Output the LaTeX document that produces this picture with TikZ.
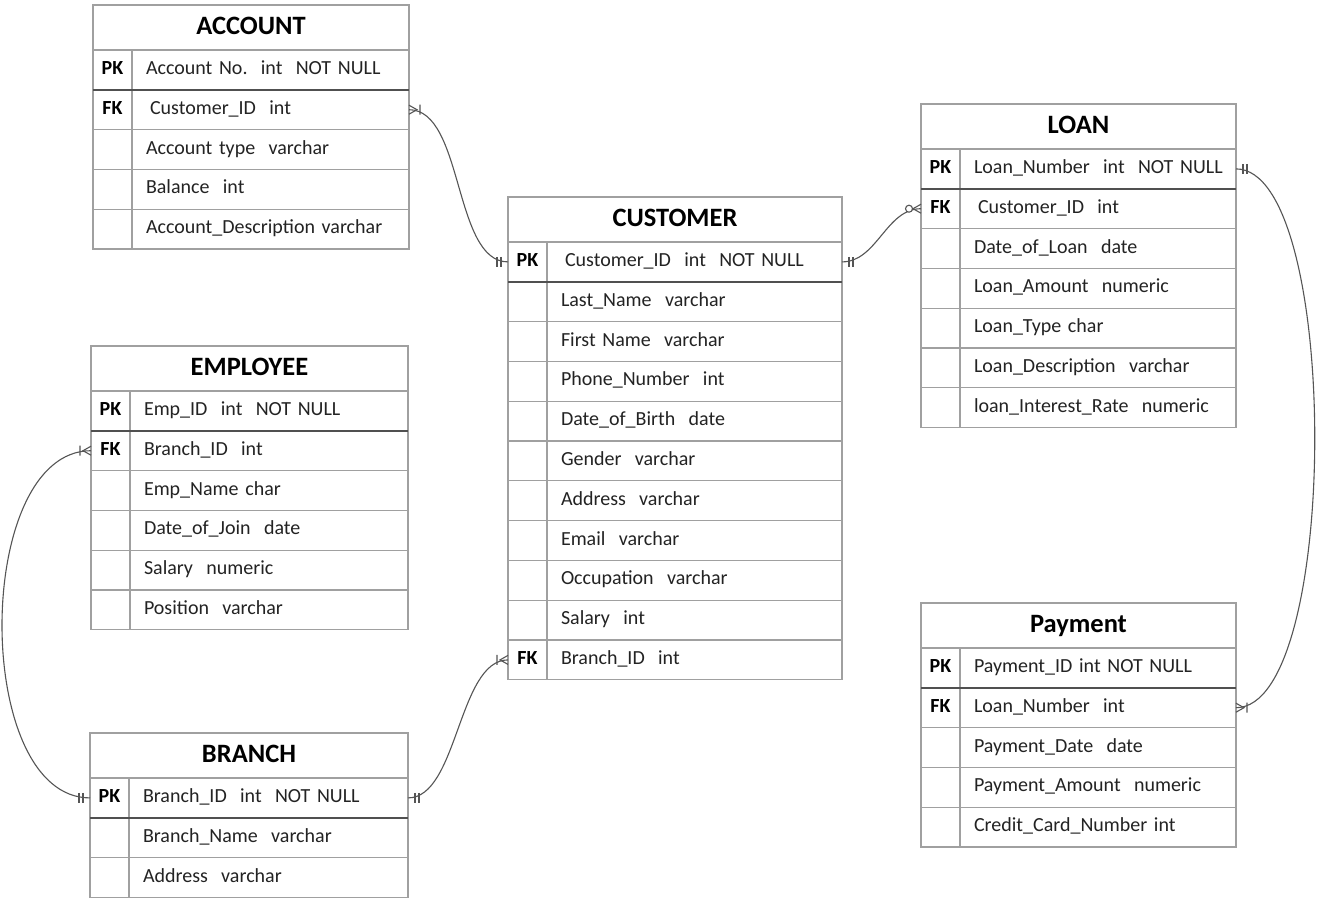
\documentclass[tikz,border=0pt]{standalone}
\usepackage{fontspec}
\setmainfont{Carlito}
\definecolor{gridc}{RGB}{160,160,160}
\definecolor{sepc}{RGB}{80,80,80}
\definecolor{txtc}{RGB}{35,35,35}
\definecolor{connc}{RGB}{85,85,85}
\tikzset{
  ttl/.style={draw=gridc, line width=1.2pt, outer sep=0pt, anchor=north west, minimum height=45pt, inner sep=0pt, text height=17pt, text depth=4pt, font=\fontsize{26.5}{30}\selectfont\bfseries, text=black},
  keyc/.style={draw=gridc, line width=1.2pt, outer sep=0pt, anchor=north west, minimum height=39.8pt, inner sep=0pt, text height=14pt, text depth=5pt, font=\fontsize{20}{24}\selectfont\bfseries, text=black},
  fldc/.style={draw=gridc, line width=1.2pt, outer sep=0pt, anchor=north west, minimum height=39.8pt, inner xsep=14pt, inner ysep=0pt, text height=14pt, text depth=5pt, align=left, font=\fontsize{20}{24}\selectfont, text=txtc},
  sepline/.style={draw=sepc, line width=2pt},
  conn/.style={draw=connc, line width=1.1pt},
  pics/onemany/.style={code={\draw[conn] (0,-4.5)--(8,0)--(0,4.5) (11,-5)--(11,5);}},
  pics/oneone/.style={code={\draw[conn] (7,-5)--(7,5) (11,-5)--(11,5);}},
  pics/zeromany/.style={code={\draw[conn] (0,-4.5)--(8,0)--(0,4.5); \draw[conn,fill=white] (12,0) circle[radius=3.5pt];}},
}
% #1 prefix, #2 x left, #3 x divider, #4 x right, #5 y top, #6 title, #7 rows
\newcommand\ertable[7]{%
  \pgfmathsetmacro\ertw{#4-#3-28}%
  \pgfmathsetmacro\erkw{#3-#2}%
  \pgfmathsetmacro\erfw{#4-#3}%
  \pgfmathsetmacro\erttw{#4-#2}%
  \node[ttl, minimum width=\erttw pt] (#1t) at (#2,#5) {#6};
  \foreach \k/\t [count=\i] in {#7} {
    \node[keyc, minimum width=\erkw pt] (#1k\i) at (#2,{#5+45+39.8*(\i-1)}) {\k};
    \node[fldc, minimum width=\erfw pt, text width=\ertw pt] (#1f\i) at (#3,{#5+45+39.8*(\i-1)}) {\mbox{\t}};
  }
  \draw[sepline] (#1k1.south west) -- (#1f1.south east);
}
\begin{document}
\begin{tikzpicture}[x=1pt,y=-1pt]
\fill[white] (0,0) rectangle (1330,900);
\useasboundingbox (0,0) rectangle (1330,900);

\ertable{acc}{93}{132}{409}{5}{ACCOUNT}{%
  PK/{Account No.~~int~~NOT NULL},
  FK/{\hspace*{4pt}Customer\_ID~~int},
  /{Account type~~varchar},
  /{Balance~~int},
  /{Account\_Description varchar}}

\ertable{cus}{508}{547}{842}{197}{CUSTOMER}{%
  PK/{\hspace*{4pt}Customer\_ID~~int~~NOT NULL},
  /{Last\_Name~~varchar},
  /{First Name~~varchar},
  /{Phone\_Number~~int},
  /{Date\_of\_Birth~~date},
  /{Gender~~varchar},
  /{Address~~varchar},
  /{Email~~varchar},
  /{Occupation~~varchar},
  /{Salary~~int},
  FK/{Branch\_ID~~int}}

\ertable{loan}{921}{960}{1236}{104}{LOAN}{%
  PK/{Loan\_Number~~int~~NOT NULL},
  FK/{\hspace*{4pt}Customer\_ID~~int},
  /{Date\_of\_Loan~~date},
  /{Loan\_Amount~~numeric},
  /{Loan\_Type char},
  /{Loan\_Description~~varchar},
  /{loan\_Interest\_Rate~~numeric}}

\ertable{emp}{91}{130}{408}{346}{EMPLOYEE}{%
  PK/{Emp\_ID~~int~~NOT NULL},
  FK/{Branch\_ID~~int},
  /{Emp\_Name char},
  /{Date\_of\_Join~~date},
  /{Salary~~numeric},
  /{Position~~varchar}}

\ertable{bra}{90}{129}{408}{733}{BRANCH}{%
  PK/{Branch\_ID~~int~~NOT NULL},
  /{Branch\_Name~~varchar},
  /{Address~~varchar}}

\ertable{pay}{921}{960}{1236}{603}{Payment}{%
  PK/{Payment\_ID int NOT NULL},
  FK/{Loan\_Number~~int},
  /{Payment\_Date~~date},
  /{Payment\_Amount~~numeric},
  /{Credit\_Card\_Number int}}

% connectors
\draw[conn] (accf2.east) to[out=0,in=180,distance=55pt] (cusk1.west);
\draw[conn] (cusf1.east) to[out=0,in=180,distance=35pt] (loank2.west);
\draw[conn] (loanf1.east) to[out=0,in=0,distance=105pt] (payf2.east);
\draw[conn] (empk2.west) to[out=180,in=180,distance=118pt] (brak1.west);
\draw[conn] (braf1.east) to[out=0,in=180,distance=50pt] (cusk11.west);

% cardinality marks
\pic at (accf2.east) {onemany};
\pic[xscale=-1] at (cusk1.west) {oneone};
\pic at (cusf1.east) {oneone};
\pic[xscale=-1] at (loank2.west) {zeromany};
\pic at (loanf1.east) {oneone};
\pic at (payf2.east) {onemany};
\pic[xscale=-1] at (empk2.west) {onemany};
\pic[xscale=-1] at (brak1.west) {oneone};
\pic at (braf1.east) {oneone};
\pic[xscale=-1] at (cusk11.west) {onemany};
\end{tikzpicture}
\end{document}
